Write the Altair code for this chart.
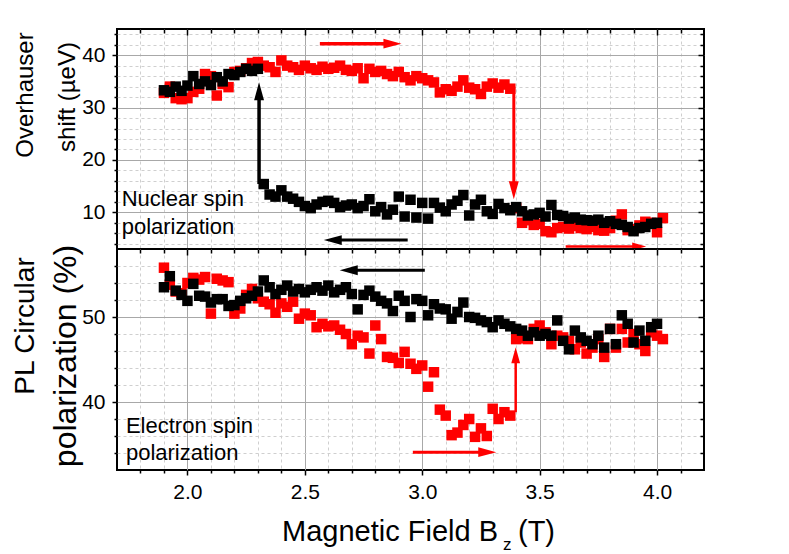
import altair as alt
import pandas as pd

FONT = "Liberation Sans"
RED = "#ff0000"
BLACK = "#000000"
MAJOR_GRID = "#a8a8a8"
MINOR_GRID = "#cfcfcf"

# ---------------- data ----------------
# sweep up (red) field values
B_UP = [1.900, 1.925, 1.950, 1.975, 2.000, 2.025, 2.050, 2.075, 2.100, 2.125,
        2.150, 2.175, 2.200, 2.225, 2.250, 2.275, 2.300, 2.325, 2.350, 2.375,
        2.400, 2.425, 2.450, 2.475, 2.500, 2.525, 2.550, 2.575, 2.600, 2.625,
        2.650, 2.675, 2.700, 2.725, 2.750, 2.775, 2.800, 2.825, 2.850, 2.875,
        2.900, 2.925, 2.950, 2.975, 3.000, 3.025, 3.050, 3.075, 3.100, 3.125,
        3.150, 3.175, 3.200, 3.225, 3.250, 3.275, 3.300, 3.325, 3.350, 3.375,
        3.400, 3.425, 3.450, 3.475, 3.500, 3.525, 3.550, 3.575, 3.600, 3.625,
        3.650, 3.675, 3.700, 3.725, 3.750, 3.775, 3.800, 3.825, 3.850, 3.875,
        3.900, 3.925, 3.950, 3.975, 4.000, 4.025]
# sweep down (black) field values
B_DOWN = [1.900, 1.925, 1.950, 1.975, 2.000, 2.025, 2.050, 2.075, 2.100, 2.125,
          2.150, 2.175, 2.200, 2.225, 2.250, 2.275, 2.300, 2.325, 2.350, 2.375,
          2.400, 2.425, 2.450, 2.475, 2.500, 2.525, 2.550, 2.575, 2.600, 2.625,
          2.650, 2.675, 2.700, 2.725, 2.750, 2.775, 2.800, 2.825, 2.850, 2.875,
          2.900, 2.925, 2.950, 2.975, 3.000, 3.025, 3.050, 3.075, 3.100, 3.125,
          3.150, 3.175, 3.200, 3.225, 3.250, 3.275, 3.300, 3.325, 3.350, 3.375,
          3.400, 3.425, 3.450, 3.475, 3.500, 3.525, 3.550, 3.575, 3.600, 3.625,
          3.650, 3.675, 3.700, 3.725, 3.750, 3.775, 3.800, 3.825, 3.850, 3.875,
          3.900, 3.925, 3.950, 3.975, 4.000]

# Overhauser shift (ueV)
OVH_UP = [32.8, 34.0, 31.8, 31.6, 31.8, 33.0, 33.6, 36.4, 36.0, 32.3,
          34.5, 33.9, 36.8, 37.0, 37.5, 38.5, 38.7, 38.0, 37.7, 36.8,
          39.0, 38.0, 37.7, 37.2, 38.0, 37.5, 37.2, 37.8, 37.4, 37.6,
          38.0, 37.2, 37.0, 37.5, 35.6, 37.4, 36.8, 37.0, 36.4, 36.0,
          36.8, 35.8, 35.2, 36.0, 35.6, 35.2, 34.8, 32.9, 33.5, 33.2,
          34.0, 35.2, 33.8, 33.5, 32.6, 34.0, 34.6, 33.8, 34.4, 33.6,
          10.8, 8.0, 8.5, 7.6, 7.8, 6.4, 6.2, 7.0, 7.2, 6.9,
          7.4, 7.0, 6.8, 7.2, 6.6, 6.5, 7.0, 8.4, 9.6, 6.6,
          6.8, 7.5, 8.2, 8.0, 6.2, 8.9]
OVH_DOWN = [33.3, 33.0, 34.0, 33.2, 34.2, 36.0, 34.5, 35.0, 34.3, 35.8,
            35.0, 36.4, 36.2, 36.8, 37.4, 37.0, 37.4, 15.4, 13.4, 13.0,
            14.2, 13.0, 12.6, 12.0, 11.2, 10.8, 11.5, 12.0, 12.2, 11.8,
            11.0, 11.3, 11.5, 10.8, 11.2, 12.5, 10.2, 11.0, 9.6, 10.5,
            13.0, 9.2, 12.4, 9.0, 11.8, 8.8, 11.8, 10.9, 10.2, 11.5,
            12.2, 13.3, 9.4, 11.5, 12.4, 10.2, 9.7, 11.6, 10.8, 10.4,
            11.0, 10.2, 9.4, 9.6, 9.9, 9.2, 11.4, 9.5, 9.3, 8.8,
            9.0, 8.6, 8.5, 8.4, 8.6, 8.0, 8.3, 7.8, 7.6, 7.2,
            6.4, 7.0, 7.2, 7.8, 8.0]

# PL circular polarization (%)
PL_UP = [55.8, 53.8, 53.0, 52.8, 54.0, 54.6, 54.4, 54.7, 50.4, 54.5,
         54.3, 54.1, 50.4, 51.0, 52.6, 53.3, 52.2, 51.8, 51.5, 50.5,
         51.6, 51.2, 51.8, 49.8, 50.4, 50.2, 48.8, 49.2, 48.9, 49.0,
         48.5, 48.0, 46.8, 47.8, 47.6, 45.7, 49.0, 47.4, 45.3, 45.2,
         44.6, 45.9, 44.5, 43.9, 44.3, 41.8, 43.5, 39.1, 38.4, 36.1,
         36.4, 37.3, 38.0, 35.9, 36.9, 36.0, 39.2, 38.0, 38.8, 38.4,
         47.4, 47.5, 47.4, 48.6, 49.0, 48.2, 46.8, 47.8, 47.6, 47.2,
         46.2, 47.0, 45.7, 46.4, 47.4, 45.3, 48.6, 46.4, 48.6, 47.0,
         48.0, 46.8, 46.0, 48.2, 47.8, 47.4]
PL_DOWN = [53.5, 54.8, 53.1, 52.6, 51.9, 53.9, 52.5, 52.4, 51.7, 52.1,
           52.1, 51.3, 51.4, 51.9, 52.2, 52.5, 53.0, 54.3, 53.5, 52.7,
           53.2, 53.7, 53.0, 53.3, 52.9, 53.2, 53.5, 53.1, 53.7, 52.9,
           53.2, 53.5, 52.7, 50.9, 52.6, 53.1, 52.4, 51.9, 51.6, 50.7,
           52.5, 51.9, 50.0, 52.1, 51.9, 50.2, 51.5, 51.0, 50.9, 49.8,
           50.6, 51.7, 50.0, 49.9, 49.6, 49.4, 48.8, 49.6, 49.2, 48.9,
           48.6, 48.4, 47.8, 48.2, 47.8, 48.0, 47.8, 49.6, 47.2, 46.2,
           48.4, 47.6, 47.2, 46.8, 47.8, 46.4, 48.6, 46.8, 50.2, 49.2,
           47.0, 48.4, 47.2, 48.8, 49.2]

# axes
X_DOMAIN = [1.7, 4.2]
X_MAJOR = [2.0, 2.5, 3.0, 3.5, 4.0]
X_MINOR = [1.8, 1.9, 2.1, 2.2, 2.3, 2.4, 2.6, 2.7, 2.8, 2.9,
           3.1, 3.2, 3.3, 3.4, 3.6, 3.7, 3.8, 3.9, 4.1]
OVH_DOMAIN = [3, 45]
OVH_MAJOR = [10, 20, 30, 40]
OVH_MINOR = [4, 6, 8, 12, 14, 16, 18, 22, 24, 26, 28, 32, 34, 36, 38, 42, 44]
PL_DOMAIN = [32, 58]
PL_MAJOR = [40, 50]
PL_MINOR = [34, 36, 38, 42, 44, 46, 48, 52, 54, 56]

# arrows: tail (x1, y1) -> head centre (x2, y2)
OVH_ARROW_X1 = [2.564, 2.305, 3.390, 2.938, 3.611]
OVH_ARROW_Y1 = [42.2, 15.4, 34.0, 4.7, 3.5]
OVH_ARROW_X2 = [2.873, 2.305, 3.390, 2.619, 3.924]
OVH_ARROW_Y2 = [42.2, 33.1, 14.2, 4.7, 3.5]
OVH_ARROW_DIR = ["right", "up", "down", "left", "right"]
OVH_ARROW_COLOR = [RED, BLACK, RED, BLACK, RED]
OVH_ARROW_HEAD = [18, 18, 18, 18, 14]
OVH_ARROW_WIDTH = [3.5, 3.5, 3.0, 3.0, 2.5]

PL_ARROW_X1 = [3.011, 3.398, 2.960]
PL_ARROW_Y1 = [55.5, 38.8, 34.1]
PL_ARROW_X2 = [2.687, 3.398, 3.277]
PL_ARROW_Y2 = [55.5, 45.5, 34.1]
PL_ARROW_DIR = ["left", "up", "right"]
PL_ARROW_COLOR = [BLACK, RED, RED]
PL_ARROW_HEAD = [18, 16, 18]
PL_ARROW_WIDTH = [3.0, 2.5, 3.0]

# in-plot notes
OVH_NOTE_TEXT = ["Nuclear spin", "polarization"]
OVH_NOTE_X = [1.72, 1.72]
OVH_NOTE_Y = [11.2, 5.8]
PL_NOTE_TEXT = ["Electron spin", "polarization"]
PL_NOTE_X = [1.738, 1.738]
PL_NOTE_Y = [36.3, 33.2]

# y titles (each line separately): text, x, y, font size
OVH_TITLE = [("Overhauser", -84, 66, 24), ("shift (\u00b5eV)", -42, 68, 24)]
PL_TITLE = [("PL Circular", -83, 77, 28), ("polarization (%)", -41, 107, 32)]

HEAD_PATH = {
    "up": "M0,-1L0.55,1L-0.55,1Z",
    "down": "M0,1L0.55,-1L-0.55,-1Z",
    "right": "M1,0L-1,-0.55L-1,0.55Z",
    "left": "M-1,0L1,-0.55L1,0.55Z",
}

W = 587
H_TOP = 220
H_BOT = 221

xs = alt.Scale(domain=X_DOMAIN, nice=False, zero=False)


def one(text):
    return pd.DataFrame({"t": [text]})


def panel(b_up, v_up, b_down, v_down, ydom, ymaj, ymin,
          ax1, ay1, ax2, ay2, adir, acol, ahead, awid,
          ntext, nx, ny, titles, bottom, height):
    ys = alt.Scale(domain=ydom, nice=False, zero=False)
    up = pd.DataFrame({"B": b_up, "v": v_up})
    down = pd.DataFrame({"B": b_down, "v": v_down})

    ghost = alt.Chart(up).mark_point(opacity=0)
    minor = ghost.encode(
        x=alt.X("B:Q", scale=xs, axis=alt.Axis(
            orient="bottom", values=X_MINOR, grid=True, gridColor=MINOR_GRID,
            gridDash=[3, 3], gridWidth=1, labels=False, ticks=bottom,
            tickSize=3, tickWidth=1.5, tickColor="black", domain=False, title=None)),
        y=alt.Y("v:Q", scale=ys, axis=alt.Axis(
            orient="left", values=ymin, grid=True, gridColor=MINOR_GRID,
            gridDash=[3, 3], gridWidth=1, labels=False, tickSize=3,
            tickWidth=1.5, tickColor="black", domain=False, title=None)),
    )
    major = ghost.encode(
        x=alt.X("B:Q", scale=xs, axis=alt.Axis(
            orient="bottom", values=X_MAJOR, grid=True, gridColor=MAJOR_GRID,
            gridWidth=1, labels=bottom, format=".1f", labelFont=FONT,
            labelFontSize=21, labelColor="black", labelPadding=6,
            ticks=bottom, tickSize=5, tickWidth=1.5, tickColor="black",
            domain=False, title=None)),
        y=alt.Y("v:Q", scale=ys, axis=alt.Axis(
            orient="left", values=ymaj, grid=True, gridColor=MAJOR_GRID,
            gridWidth=1, labels=True, format="d", labelFont=FONT,
            labelFontSize=21, labelColor="black", labelPadding=7,
            tickSize=5, tickWidth=1.5, tickColor="black", domain=False,
            title=None)),
    )
    in_major = ghost.encode(
        x=alt.X("B:Q", scale=xs, axis=alt.Axis(
            orient="top", values=X_MAJOR, grid=False, labels=False,
            tickSize=6, tickWidth=1.5, tickColor="black", offset=-6,
            domain=False, title=None)),
        y=alt.Y("v:Q", scale=ys, axis=alt.Axis(
            orient="right", values=ymaj, grid=False, labels=False,
            tickSize=6, tickWidth=1.5, tickColor="black", offset=-6,
            domain=False, title=None)),
    )
    in_minor = ghost.encode(
        x=alt.X("B:Q", scale=xs, axis=alt.Axis(
            orient="top", values=X_MINOR, grid=False, labels=False,
            tickSize=4, tickWidth=1.5, tickColor="black", offset=-4,
            domain=False, title=None)),
        y=alt.Y("v:Q", scale=ys, axis=alt.Axis(
            orient="right", values=ymin, grid=False, labels=False,
            tickSize=4, tickWidth=1.5, tickColor="black", offset=-4,
            domain=False, title=None)),
    )

    def pts(df, color):
        return alt.Chart(df).mark_square(size=110, opacity=1, color=color).encode(
            x=alt.X("B:Q", scale=xs, axis=None),
            y=alt.Y("v:Q", scale=ys, axis=None),
        )

    arr = pd.DataFrame({
        "x1": ax1, "y1": ay1, "x2": ax2, "y2": ay2,
        "path": [HEAD_PATH[d] for d in adir],
        "color": acol,
        "hsize": [h * h for h in ahead],
        "sw": awid,
    })
    shafts = alt.Chart(arr).mark_rule(strokeCap="butt").encode(
        x=alt.X("x1:Q", scale=xs, axis=None), x2="x2:Q",
        y=alt.Y("y1:Q", scale=ys, axis=None), y2="y2:Q",
        color=alt.Color("color:N", scale=None),
        strokeWidth=alt.StrokeWidth("sw:Q", scale=None),
    )
    heads = alt.Chart(arr).mark_point(filled=True, opacity=1, strokeWidth=0).encode(
        x=alt.X("x2:Q", scale=xs, axis=None),
        y=alt.Y("y2:Q", scale=ys, axis=None),
        shape=alt.Shape("path:N", scale=None),
        color=alt.Color("color:N", scale=None),
        size=alt.Size("hsize:Q", scale=None),
    )
    notes = alt.Chart(pd.DataFrame({"t": ntext, "x": nx, "y": ny})).mark_text(
        align="left", baseline="alphabetic", font=FONT, fontSize=22, color="black"
    ).encode(
        x=alt.X("x:Q", scale=xs, axis=None),
        y=alt.Y("y:Q", scale=ys, axis=None),
        text="t:N",
    )
    layers = [minor, major, in_major, in_minor, pts(up, RED), pts(down, BLACK),
              shafts, heads, notes]
    for text, px, py, fs in titles:
        layers.append(alt.Chart(one(text)).mark_text(
            angle=270, align="center", baseline="alphabetic", font=FONT,
            fontSize=fs, color="black").encode(
            x=alt.value(px), y=alt.value(py), text="t:N"))
    # common left extent so both panels line up
    layers.append(alt.Chart(one("")).mark_rule(opacity=0).encode(
        x=alt.value(-108), y=alt.value(0), y2=alt.value(1)))
    if bottom:
        layers.append(alt.Chart(one("Magnetic Field B")).mark_text(
            align="right", baseline="alphabetic", font=FONT, fontSize=29,
            color="black").encode(x=alt.value(381), y=alt.value(292), text="t:N"))
        layers.append(alt.Chart(one("z")).mark_text(
            align="left", baseline="alphabetic", font=FONT, fontSize=17,
            color="black").encode(x=alt.value(386), y=alt.value(301), text="t:N"))
        layers.append(alt.Chart(one("(T)")).mark_text(
            align="left", baseline="alphabetic", font=FONT, fontSize=29,
            color="black").encode(x=alt.value(401), y=alt.value(292), text="t:N"))
    return alt.layer(*layers).resolve_axis(x="independent", y="independent").properties(
        width=W, height=height)


top = panel(B_UP, OVH_UP, B_DOWN, OVH_DOWN, OVH_DOMAIN, OVH_MAJOR, OVH_MINOR,
            OVH_ARROW_X1, OVH_ARROW_Y1, OVH_ARROW_X2, OVH_ARROW_Y2, OVH_ARROW_DIR,
            OVH_ARROW_COLOR, OVH_ARROW_HEAD, OVH_ARROW_WIDTH,
            OVH_NOTE_TEXT, OVH_NOTE_X, OVH_NOTE_Y, OVH_TITLE, False, H_TOP)
bot = panel(B_UP, PL_UP, B_DOWN, PL_DOWN, PL_DOMAIN, PL_MAJOR, PL_MINOR,
            PL_ARROW_X1, PL_ARROW_Y1, PL_ARROW_X2, PL_ARROW_Y2, PL_ARROW_DIR,
            PL_ARROW_COLOR, PL_ARROW_HEAD, PL_ARROW_WIDTH,
            PL_NOTE_TEXT, PL_NOTE_X, PL_NOTE_Y, PL_TITLE, True, H_BOT)

chart = alt.vconcat(top, bot, spacing=0, bounds="flush").properties(
    padding={"left": 0, "top": 19, "right": 5, "bottom": 5},
    background="white",
).configure_view(stroke="black", strokeWidth=2)

chart.save("out.html", embed_options={"renderer": "svg", "actions": False})
